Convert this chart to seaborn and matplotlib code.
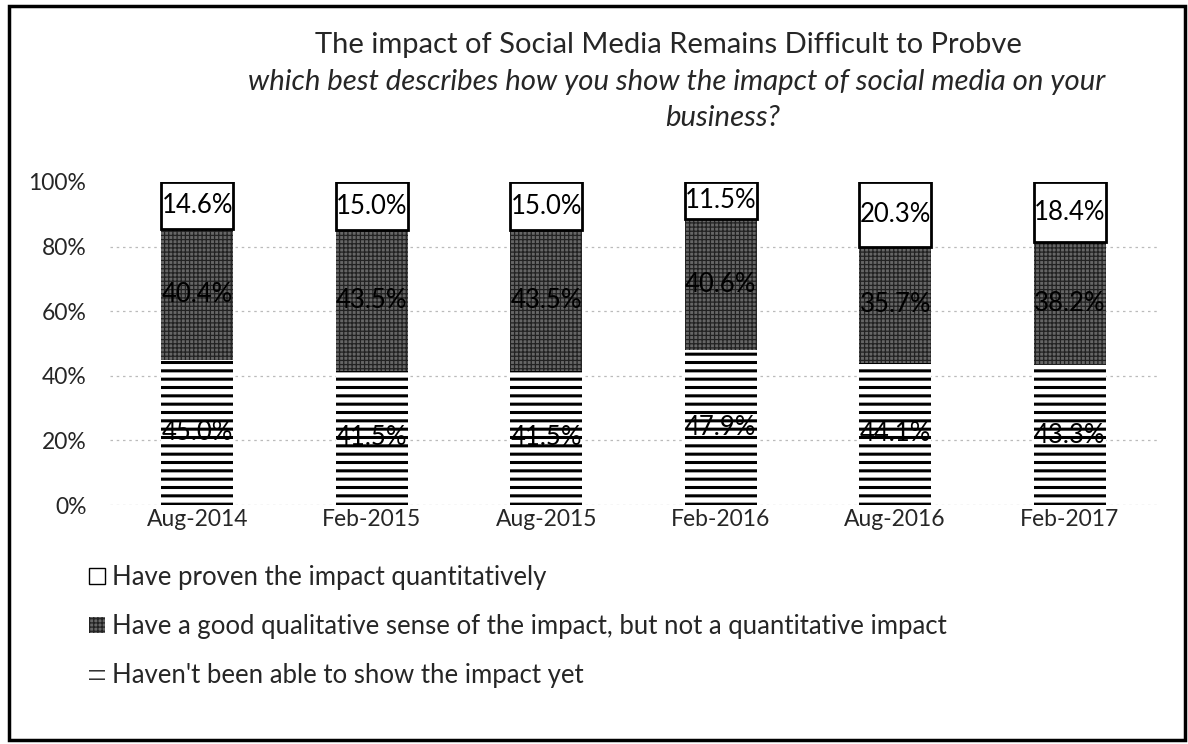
import matplotlib
matplotlib.use("Agg")
import matplotlib.pyplot as plt
import seaborn as sns
import numpy as np
import pandas as pd
from matplotlib.patches import Rectangle

periods = ["Aug-2014", "Feb-2015", "Aug-2015", "Feb-2016", "Aug-2016", "Feb-2017"]
not_shown = [45.0, 41.5, 41.5, 47.9, 44.1, 43.3]
qualitative = [40.4, 43.5, 43.5, 40.6, 35.7, 38.2]
proven = [14.6, 15.0, 15.0, 11.5, 20.3, 18.4]
series_labels = ["Have proven the impact quantitatively",
                 "Have a good qualitative sense of the impact, but not a quantitative impact",
                 "Haven't been able to show the impact yet"]
yticks = [0, 20, 40, 60, 80, 100]

sns.set_theme(style="white")
plt.rcParams['font.family'] = ['Lato', 'DejaVu Sans']
plt.rcParams['hatch.linewidth'] = 2.2

fig = plt.figure(figsize=(11.88, 7.44), dpi=100)
ax = fig.add_axes([110/1188, 1-505/744, 1047/1188, 323/744])

df = pd.DataFrame({"period": periods, "a": not_shown, "b": qualitative, "c": proven})
b1 = np.array(not_shown)
b2 = b1 + np.array(qualitative)

bw = 0.41
mid_face = "#666666"
sns.barplot(data=df, x="period", y="a", ax=ax, color="white", width=bw,
            edgecolor="black", linewidth=0, hatch="--", label=series_labels[2])
n1 = len(ax.patches)
plt.rcParams['hatch.linewidth'] = 0.9
sns.barplot(data=df, x="period", y="b", ax=ax, color=mid_face, width=bw, bottom=b1,
            edgecolor="#222222", linewidth=0, hatch="++++", label=series_labels[1])
n2 = len(ax.patches)
sns.barplot(data=df, x="period", y="c", ax=ax, color="white", width=bw, bottom=b2,
            edgecolor="black", linewidth=2.0, label=series_labels[0])

for p in ax.patches[:n1]:
    p.set_facecolor("white")
    p.set_edgecolor("black")
    try:
        p.set_hatch_linewidth(2.2)
    except Exception:
        pass
for p in ax.patches[n1:n2]:
    p.set_facecolor(mid_face)
    p.set_edgecolor("#222222")
    try:
        p.set_hatch_linewidth(0.9)
    except Exception:
        pass
for p in ax.patches[n2:]:
    p.set_facecolor("white")
    p.set_edgecolor("black")

handles, labels = ax.get_legend_handles_labels()
if ax.get_legend() is not None:
    ax.get_legend().remove()

for i in range(len(periods)):
    ax.text(i, not_shown[i]/2, f"{not_shown[i]:.1f}%", ha="center", va="center", fontsize=18.5, color="black")
    ax.text(i, b1[i] + qualitative[i]/2, f"{qualitative[i]:.1f}%", ha="center", va="center", fontsize=18.5, color="black")
    ax.text(i, b2[i] + proven[i]/2, f"{proven[i]:.1f}%", ha="center", va="center", fontsize=18.5, color="black")

ax.set_ylim(0, 100)
ax.set_xlim(-0.5, len(periods) - 0.5)
ax.set_yticks(yticks)
ax.set_yticklabels([f"{v}%" for v in yticks], fontsize=16.5)
ax.tick_params(axis="x", labelsize=16.5, pad=3, length=0)
ax.tick_params(axis="y", pad=17, length=0)
ax.set_xlabel("")
ax.set_ylabel("")
for s in ax.spines.values():
    s.set_visible(False)
ax.yaxis.grid(True, color="#bbbbbb", linestyle=(0, (2, 3)), linewidth=0.9)
ax.set_axisbelow(True)
ax.get_ygridlines()[-1].set_visible(False)

order = [labels.index(l) for l in series_labels]
leg = fig.legend([handles[i] for i in order], [labels[i] for i in order],
                 loc="upper left", bbox_to_anchor=(66/1188, 1-542/744),
                 frameon=False, fontsize=18.5, handlelength=0.6, handleheight=0.6,
                 handletextpad=0.3, labelspacing=0.93)
lh = leg.legend_handles
lh[0].set_linewidth(1.0)
lh[1].set_linewidth(0)
lh[2].set_linewidth(0)

fig.text(668/1188, 1-45/744, "The impact of Social Media Remains Difficult to Probve",
         ha="center", va="center", fontsize=21)
fig.text(677/1188, 1-82/744, "which best describes how you show the imapct of social media on your",
         ha="center", va="center", fontsize=21.2, style="italic")
fig.text(723/1188, 1-118/744, "business?", ha="center", va="center", fontsize=21.2, style="italic")

fig.patches.append(Rectangle((9/1188, 4/744), 1176/1188, 734/744, transform=fig.transFigure,
                             fill=False, edgecolor="black", linewidth=2.5, figure=fig))

fig.savefig("out.png", dpi=100)
